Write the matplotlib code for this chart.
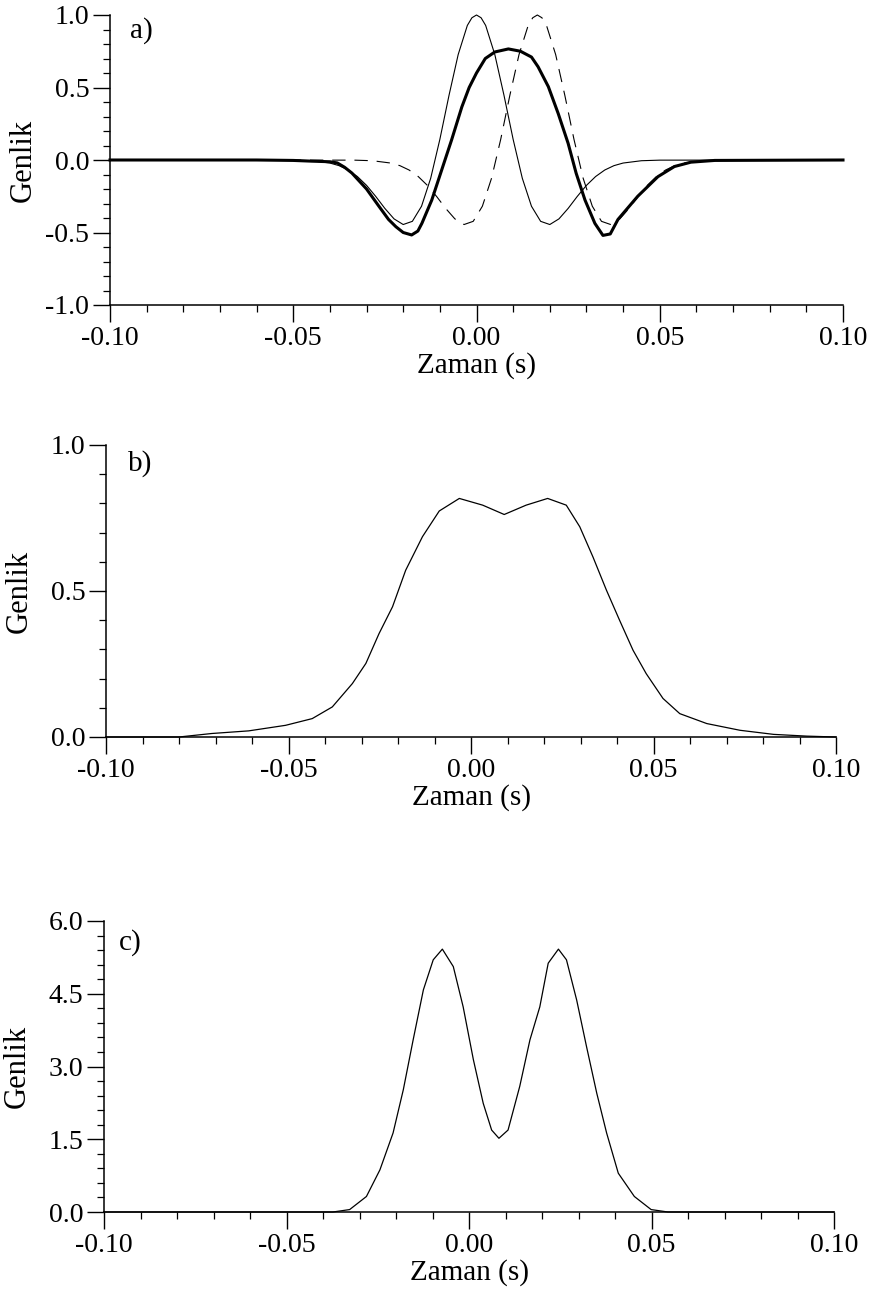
import matplotlib
matplotlib.use("Agg")
import matplotlib.pyplot as plt
from matplotlib.ticker import MultipleLocator, FormatStrFormatter

plt.rcParams["font.family"] = ["Liberation Serif", "DejaVu Serif"]
plt.rcParams["axes.unicode_minus"] = False

# ---------------------------------------------------------------------------
# a) two wavelets (thin, dashed) and their sum (thick)
# ---------------------------------------------------------------------------
thin_t = [-0.100, -0.050, -0.045, -0.040, -0.0375, -0.035, -0.0325, -0.030, -0.0275,
          -0.025, -0.0225, -0.020, -0.0175, -0.015, -0.0125, -0.010, -0.0075,
          -0.005, -0.0025, -0.00125, 0.000, 0.00125, 0.0025, 0.005, 0.0075, 0.010,
          0.0125, 0.015, 0.0175, 0.020, 0.0225, 0.025, 0.0275, 0.030, 0.0325,
          0.035, 0.0375, 0.040, 0.045, 0.050, 0.100]
thin_v = [0.0, -0.001, -0.005, -0.021, -0.039, -0.069, -0.114, -0.175, -0.251,
          -0.334, -0.406, -0.445, -0.423, -0.319, -0.126, 0.142, 0.446,
          0.727, 0.928, 0.981, 1.000, 0.981, 0.928, 0.727, 0.446, 0.142,
          -0.126, -0.319, -0.423, -0.445, -0.406, -0.334, -0.251, -0.175, -0.114,
          -0.069, -0.039, -0.021, -0.005, -0.001, 0.0]

dash_t = [-0.100, -0.0334, -0.0284, -0.0234, -0.0209, -0.0184, -0.0159, -0.0134,
          -0.0109, -0.0084, -0.0059, -0.0034, -0.0009, 0.0016, 0.0041, 0.0066,
          0.0091, 0.0116, 0.0141, 0.01535, 0.0166, 0.01785, 0.0191, 0.0216, 0.0241,
          0.0266, 0.0291, 0.0316, 0.0341, 0.0366, 0.0391, 0.0416, 0.0441, 0.0466,
          0.0491, 0.0516, 0.0541, 0.0566, 0.0616, 0.0666, 0.100]
dash_v = [0.0, -0.001, -0.005, -0.021, -0.039, -0.069, -0.114, -0.175,
          -0.251, -0.334, -0.406, -0.445, -0.423, -0.319, -0.126, 0.142,
          0.446, 0.727, 0.928, 0.981, 1.000, 0.981, 0.928, 0.727, 0.446,
          0.142, -0.126, -0.319, -0.423, -0.445, -0.406, -0.334, -0.251, -0.175,
          -0.114, -0.069, -0.039, -0.021, -0.005, -0.001, 0.0]

sum_t = [-0.100, -0.060, -0.050, -0.045, -0.040, -0.038, -0.036, -0.034, -0.030,
         -0.0266, -0.024, -0.022, -0.020, -0.0177, -0.016, -0.0149, -0.0122,
         -0.0095, -0.0068, -0.004, -0.002, 0.000, 0.0024, 0.005, 0.0087, 0.012,
         0.015, 0.0168, 0.0196, 0.0223, 0.025, 0.0272, 0.0296, 0.0323, 0.0345,
         0.0365, 0.0386, 0.044, 0.0495, 0.054, 0.0585, 0.065, 0.100]
sum_v = [0.0, 0.0, -0.003, -0.008, -0.012, -0.020, -0.050, -0.090, -0.200,
         -0.320, -0.410, -0.460, -0.500, -0.517, -0.490, -0.437, -0.276,
         -0.069, 0.138, 0.366, 0.500, 0.600, 0.700, 0.745, 0.766, 0.750,
         0.710, 0.643, 0.506, 0.320, 0.115, -0.092, -0.276, -0.437, -0.520,
         -0.510, -0.410, -0.250, -0.115, -0.045, -0.015, -0.003, 0.0]

# ---------------------------------------------------------------------------
# b) envelope
# ---------------------------------------------------------------------------
b_t = [-0.100, -0.080, -0.071, -0.0609, -0.0508, -0.0435, -0.038, -0.0325,
       -0.0288, -0.0252, -0.0215, -0.0179, -0.0133, -0.0087, -0.0032, 0.0032,
       0.0091, 0.0151, 0.021, 0.0261, 0.0298, 0.0334, 0.0371, 0.0407, 0.0444,
       0.048, 0.0526, 0.0572, 0.0646, 0.0737, 0.0829, 0.092, 0.100]
b_v = [0.0, 0.0, 0.012, 0.021, 0.040, 0.063, 0.103, 0.183,
       0.252, 0.354, 0.446, 0.571, 0.686, 0.774, 0.817, 0.794,
       0.762, 0.794, 0.817, 0.794, 0.720, 0.617, 0.503, 0.400, 0.297,
       0.217, 0.132, 0.080, 0.046, 0.023, 0.009, 0.003, 0.0]

# ---------------------------------------------------------------------------
# c) energy curve
# ---------------------------------------------------------------------------
c_t = [-0.100, -0.0373, -0.0327, -0.0281, -0.0244, -0.0208, -0.018, -0.0153,
       -0.0125, -0.0098, -0.0073, -0.0043, -0.0016, 0.0012, 0.0039, 0.0062,
       0.0082, 0.0107, 0.0139, 0.0167, 0.0194, 0.0217, 0.0245, 0.0267, 0.0295,
       0.0322, 0.035, 0.0377, 0.0409, 0.0453, 0.0499, 0.0545, 0.100]
c_v = [0.0, 0.0, 0.05, 0.32, 0.87, 1.63, 2.52, 3.55,
       4.58, 5.20, 5.42, 5.06, 4.23, 3.14, 2.24, 1.69,
       1.52, 1.69, 2.59, 3.55, 4.23, 5.13, 5.42, 5.20, 4.37,
       3.41, 2.45, 1.63, 0.80, 0.32, 0.05, 0.0, 0.0]

TICK_FS = 20
LABEL_FS = 21
YLABEL_FS = 22
W, H = 872, 1304


def style_axis(ax, ymin, ymax, ymaj, ymin_step, tag, tag_xy):
    ax.set_xlim(-0.10, 0.10)
    ax.set_ylim(ymin, ymax)
    for side in ("top", "right"):
        ax.spines[side].set_visible(False)
    for side in ("left", "bottom"):
        ax.spines[side].set_linewidth(1.1)
    ax.xaxis.set_major_locator(MultipleLocator(0.05))
    ax.xaxis.set_minor_locator(MultipleLocator(0.01))
    ax.yaxis.set_major_locator(MultipleLocator(ymaj))
    ax.yaxis.set_minor_locator(MultipleLocator(ymin_step))
    ax.xaxis.set_major_formatter(FormatStrFormatter("%.2f"))
    ax.yaxis.set_major_formatter(FormatStrFormatter("%.1f"))
    ax.tick_params(which="major", direction="out", length=12, width=1.0,
                   labelsize=TICK_FS, pad=3)
    ax.tick_params(which="minor", direction="out", length=5, width=0.9)
    ax.set_xlabel("Zaman (s)", fontsize=LABEL_FS, labelpad=1)
    ax.set_ylabel("Genlik", fontsize=YLABEL_FS)
    ax.yaxis.set_label_coords(-0.099, 0.5)
    ax.text(tag_xy[0], tag_xy[1], tag, transform=ax.transAxes,
            fontsize=LABEL_FS, ha="left", va="center")


def box(left, top, right, bottom):
    return [left / W, 1 - bottom / H, (right - left) / W, (bottom - top) / H]


fig = plt.figure(figsize=(W / 100, H / 100), dpi=100)

ax_a = fig.add_axes(box(110, 15, 843, 305))
ax_a.plot(thin_t, thin_v, color="black", lw=0.8, clip_on=False)
ax_a.plot(dash_t, dash_v, color="black", lw=0.8, linestyle=(0, (12, 8)),
          clip_on=False)
ax_a.plot(sum_t, sum_v, color="black", lw=2.2, clip_on=False)
style_axis(ax_a, -1.0, 1.0, 0.5, 0.1, "a)", (0.027, 0.945))

ax_b = fig.add_axes(box(106, 445, 836, 737))
ax_b.plot(b_t, b_v, color="black", lw=0.9, clip_on=False)
style_axis(ax_b, 0.0, 1.0, 0.5, 0.1, "b)", (0.03, 0.935))

ax_c = fig.add_axes(box(104, 921, 834, 1212))
ax_c.plot(c_t, c_v, color="black", lw=0.9, clip_on=False)
style_axis(ax_c, 0.0, 6.0, 1.5, 0.3, "c)", (0.02, 0.925))

fig.savefig("out.png", dpi=100, facecolor="white")
